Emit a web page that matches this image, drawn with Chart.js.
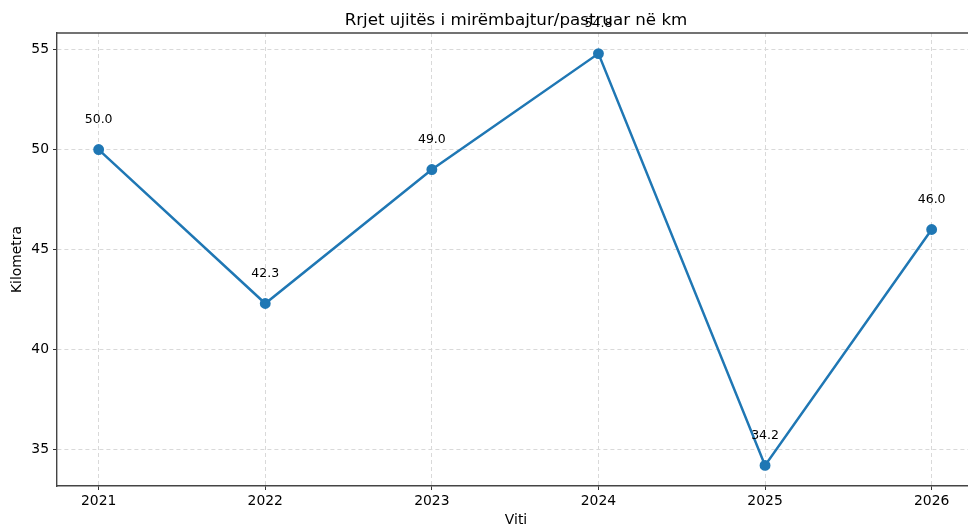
<!DOCTYPE html>
<html>
<head>
<meta charset="utf-8">
<script src="https://cdn.jsdelivr.net/npm/chart.js"></script>
<style>
  html, body { margin: 0; padding: 0; background: #fff; overflow: hidden; }
  #wrap { width: 980px; height: 527px; }
</style>
</head>
<body>
<div id="wrap"><canvas id="lineChart" width="980" height="527"></canvas></div>
<script>
// Chart data
const years = [2021, 2022, 2023, 2024, 2025, 2026];
const kilometers = [50.0, 42.3, 49.0, 54.8, 34.2, 46.0];
const yTicks = [35, 40, 45, 50, 55];

const FONT = "'DejaVu Sans', sans-serif";

// Title, axis titles, top spine and value labels
const extras = {
    id: 'extras',
    afterDraw(chart) {
        const ctx = chart.ctx;
        const area = chart.chartArea;
        ctx.save();
        ctx.fillStyle = '#000';
        ctx.textAlign = 'center';
        ctx.textBaseline = 'middle';
        ctx.font = '16.7px ' + FONT;
        ctx.fillText('Rrjet ujitës i mirëmbajtur/pastruar në km', 516, 21);
        ctx.font = '13.9px ' + FONT;
        ctx.fillText('Viti', 516, 520);
        ctx.save();
        ctx.translate(17, (area.top + area.bottom) / 2);
        ctx.rotate(-Math.PI / 2);
        ctx.fillText('Kilometra', 0, 0);
        ctx.restore();

        // top spine
        ctx.strokeStyle = '#444';
        ctx.lineWidth = 1.4;
        ctx.beginPath();
        ctx.moveTo(area.left, area.top);
        ctx.lineTo(area.right, area.top);
        ctx.stroke();

        // value labels
        ctx.font = '12.5px ' + FONT;
        const meta = chart.getDatasetMeta(0);
        meta.data.forEach(function(pt, i) {
            ctx.fillText(kilometers[i].toFixed(1), pt.x, pt.y - 30);
        });
        ctx.restore();
    }
};

document.addEventListener("DOMContentLoaded", function() {
    const ctx = document.getElementById('lineChart').getContext('2d');

    new Chart(ctx, {
        type: 'line',
        data: {
            datasets: [{
                data: years.map((y, i) => ({ x: y, y: kilometers[i] })),
                borderColor: '#1f77b4',
                backgroundColor: '#1f77b4',
                borderWidth: 2.5,
                pointRadius: 4.2,
                pointHoverRadius: 4.2,
                tension: 0,
                clip: false
            }]
        },
        options: {
            responsive: false,
            animation: false,
            events: [],
            layout: { padding: { top: 33, right: 3, left: 0, bottom: 0 } },
            plugins: {
                legend: { display: false },
                tooltip: { enabled: false }
            },
            scales: {
                x: {
                    type: 'linear',
                    min: 2020.75,
                    max: 2026.25,
                    afterBuildTicks: function(scale) {
                        scale.ticks = years.map(v => ({ value: v }));
                    },
                    afterFit: function(scale) { scale.height = 41; },
                    ticks: {
                        color: '#000',
                        font: { family: FONT, size: 13.9 },
                        padding: 3,
                        maxRotation: 0,
                        autoSkip: false,
                        callback: v => String(v)
                    },
                    grid: {
                        color: '#d9d9d9',
                        lineWidth: 1,
                        tickColor: '#333',
                        tickLength: 4,
                        tickWidth: 1,
                        tickBorderDash: []
                    },
                    border: { color: '#444', width: 1.4, dash: [4, 3] }
                },
                y: {
                    min: 33.17,
                    max: 55.83,
                    afterBuildTicks: function(scale) {
                        scale.ticks = yTicks.map(v => ({ value: v }));
                    },
                    afterFit: function(scale) { scale.width = 57; },
                    ticks: {
                        color: '#000',
                        font: { family: FONT, size: 13.9 },
                        padding: 4,
                        callback: v => String(v)
                    },
                    grid: {
                        color: '#d9d9d9',
                        lineWidth: 1,
                        tickColor: '#333',
                        tickLength: 4,
                        tickWidth: 1,
                        tickBorderDash: []
                    },
                    border: { color: '#444', width: 1.4, dash: [4, 3] }
                }
            }
        },
        plugins: [extras]
    });
});
</script>
</body>
</html>
